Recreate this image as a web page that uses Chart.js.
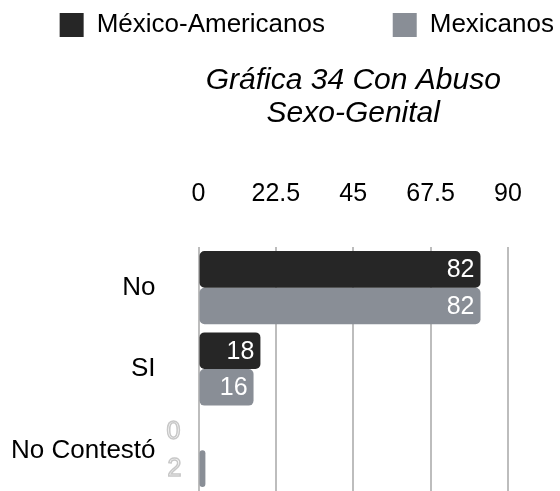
<!DOCTYPE html>
<html>
<head>
<meta charset="utf-8">
<script src="https://cdn.jsdelivr.net/npm/chart.js@4"></script>
<style>
  html, body { margin: 0; padding: 0; background: #fff; }
  #wrap { width: 560px; height: 491px; }
</style>
</head>
<body>
<div id="wrap"><canvas id="chart" width="560" height="491"></canvas></div>
<script>
// datos de la gráfica
const categorias = ['No', 'SI', 'No Contestó'];
const mexicoAmericanos = [82, 18, 0];
const mexicanos = [82, 16, 2];
const ticksX = [0, 22.5, 45, 67.5, 90];

const FONT = "'Liberation Sans', Arial, Helvetica, sans-serif";

// etiquetas de valor dentro de las barras
const valueLabels = {
    id: 'valueLabels',
    afterDatasetsDraw(chart) {
        const ctx = chart.ctx;
        ctx.save();
        ctx.font = '25px ' + FONT;
        ctx.textBaseline = 'middle';
        ctx.textAlign = 'right';
        chart.data.datasets.forEach((ds, i) => {
            chart.getDatasetMeta(i).data.forEach((bar, j) => {
                const v = ds.data[j];
                if (v < 5) {
                    // valores pequeños: texto hueco a la izquierda
                    ctx.strokeStyle = '#c8c8c8';
                    ctx.lineWidth = 1.5;
                    ctx.strokeText(String(v), bar.base - 18, bar.y);
                } else {
                    ctx.fillStyle = '#fff';
                    ctx.fillText(String(v), bar.x - 6, bar.y + 1);
                }
            });
        });
        ctx.restore();
    }
};

new Chart(document.getElementById('chart'), {
    type: 'bar',
    data: {
        labels: categorias,
        datasets: [
            {
                label: 'México-Americanos',
                data: mexicoAmericanos,
                backgroundColor: '#262626',
                borderRadius: 5,
                borderSkipped: false,
                categoryPercentage: 0.9,
                barPercentage: 1
            },
            {
                label: 'Mexicanos',
                data: mexicanos,
                backgroundColor: '#898e96',
                borderRadius: 5,
                borderSkipped: false,
                categoryPercentage: 0.9,
                barPercentage: 1
            }
        ]
    },
    options: {
        indexAxis: 'y',
        responsive: false,
        animation: false,
        layout: { padding: { top: 2, right: -4, bottom: -9, left: -24 } },
        scales: {
            x: {
                position: 'top',
                min: 0,
                max: 90,
                afterBuildTicks: (axis) => { axis.ticks = ticksX.map(v => ({ value: v })); },
                afterFit: (axis) => { axis.paddingRight = 52; axis.paddingLeft = 0; },
                ticks: {
                    color: '#000',
                    font: { family: FONT, size: 25 },
                    padding: 38,
                    maxRotation: 0
                },
                grid: { color: '#bdbdbd', lineWidth: 2, drawTicks: false },
                border: { display: false }
            },
            y: {
                ticks: {
                    color: '#000',
                    font: { family: FONT, size: 26 },
                    padding: 35
                },
                // el padding de ticks no debe recortar arriba/abajo
                afterFit: (axis) => { axis.paddingTop = 0; axis.paddingBottom = 0; },
                grid: { display: false },
                border: { display: false }
            }
        },
        plugins: {
            legend: {
                position: 'top',
                align: 'end',
                weight: 3000,
                labels: {
                    color: '#000',
                    font: { family: FONT, size: 26 },
                    boxWidth: 24,
                    boxHeight: 24,
                    padding: 10,
                    generateLabels: (chart) => {
                        const items = Chart.defaults.plugins.legend.labels.generateLabels(chart);
                        items.forEach((it, i) => { if (i < items.length - 1) it.text += '        '; });
                        return items;
                    }
                }
            },
            title: {
                display: true,
                text: ['Gráfica 34 Con Abuso', 'Sexo-Genital'],
                fullSize: false,
                color: '#000',
                font: { family: FONT, size: 30, style: 'italic', weight: 'normal', lineHeight: 1.1 },
                padding: { top: 16, bottom: 11 }
            },
            tooltip: { enabled: false }
        }
    },
    plugins: [valueLabels]
});
</script>
</body>
</html>
